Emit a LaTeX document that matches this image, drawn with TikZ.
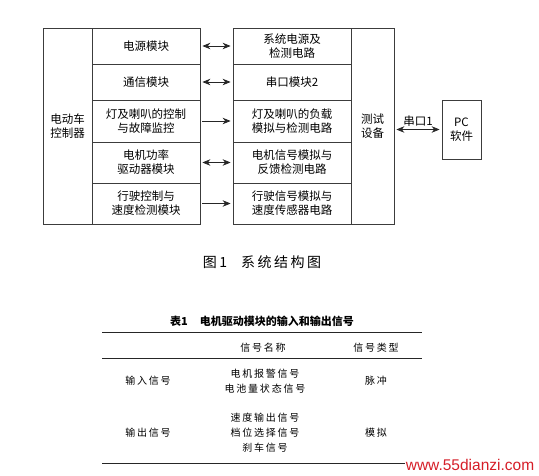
\documentclass[tikz,border=0pt]{standalone}
\usepackage{fontspec}
\newfontfamily\cjk{Noto Sans CJK SC}
\newfontfamily\cjkwide[LetterSpace=18]{Noto Sans CJK SC}
\setsansfont{Liberation Sans}
\definecolor{boxline}{RGB}{60,60,60}
\definecolor{markred}{RGB}{214,30,40}
\usetikzlibrary{arrows.meta,positioning}

\begin{document}
\begin{tikzpicture}[x=1pt,y=-1pt,
    blk/.style={draw=boxline, line width=0.8pt, align=center, inner sep=0pt,
      font=\cjk\fontsize{11.5}{14}\selectfont},
    link/.style={line width=0.8pt, draw=black!85, shorten >=2pt, shorten <=2pt},
    cell/.style={align=center, inner sep=0pt, font=\cjkwide\fontsize{10}{15}\selectfont},
    rule/.style={line width=0.8pt, draw=black!85}]
  \useasboundingbox (0,0) rectangle (539,476);
  % controller side
  \node[blk, minimum width=49pt, minimum height=196pt] (ctrl) at (67.5,126) {电动车\\控制器};
  \node[blk, minimum width=108pt, minimum height=36pt] (m1) at (146,46) {电源模块};
  \node[blk, minimum width=108pt, minimum height=36pt] (m2) at (146,82) {通信模块};
  \node[blk, minimum width=108pt, minimum height=42pt] (m3) at (146,121) {灯及喇叭的控制\\与故障监控};
  \node[blk, minimum width=108pt, minimum height=41pt] (m4) at (146,162.5) {电机功率\\驱动器模块};
  \node[blk, minimum width=108pt, minimum height=41pt] (m5) at (146,203.5) {行驶控制与\\速度检测模块};
  % test side
  \node[blk, minimum width=118pt, minimum height=36pt] (s1) at (292,46) {系统电源及\\检测电路};
  \node[blk, minimum width=118pt, minimum height=36pt] (s2) at (292,82) {串口模块2};
  \node[blk, minimum width=118pt, minimum height=42pt] (s3) at (292,121) {灯及喇叭的负载\\模拟与检测电路};
  \node[blk, minimum width=118pt, minimum height=41pt] (s4) at (292,162.5) {电机信号模拟与\\反馈检测电路};
  \node[blk, minimum width=118pt, minimum height=41pt] (s5) at (292,203.5) {行驶信号模拟与\\速度传感器电路};
  \node[blk, minimum width=43pt, minimum height=196pt] (tester) at (372.5,126) {测试\\设备};
  \node[blk, minimum width=39pt, minimum height=59pt] (pc) at (461.5,129.5) {PC\\软件};
  % links
  \foreach \i/\tip in {1/{Stealth[length=8pt,width=6.5pt]}-{Stealth[length=8pt,width=6.5pt]},
                       2/{Stealth[length=8pt,width=6.5pt]}-{Stealth[length=8pt,width=6.5pt]},
                       3/-{Stealth[length=8pt,width=6.5pt]},
                       4/{Stealth[length=8pt,width=6.5pt]}-{Stealth[length=8pt,width=6.5pt]},
                       5/-{Stealth[length=8pt,width=6.5pt]}}
    \draw[link, \tip] (m\i.east) -- (s\i.west);
  \draw[link, {Stealth[length=8pt,width=6.5pt]}-{Stealth[length=8pt,width=6.5pt]}]
    (pc.west -| tester.east) -- node[above=3pt, font=\cjk\fontsize{11.5}{14}\selectfont, inner sep=0pt] (com1) {串口1} (pc.west);
  % caption
  \node[font=\cjkwide\fontsize{14}{16}\selectfont, inner sep=0pt] (fig) at (262,262) {图1\hspace{14pt}系统结构图};
  % table
  \node[font=\cjk\bfseries\fontsize{11}{13}\selectfont, inner sep=0pt] (tabcap) at (262,321) {表1\hspace{12pt}电机驱动模块的输入和输出信号};
  \draw[rule] (102,332) -- (422,332);
  \draw[rule] (102,358) -- (422,358);
  \draw[rule] (102,463) -- (422,463);
  \node[cell] (hname) at (263,348) {信号名称};
  \node[cell] (htype) at (376,348) {信号类型};
  \node[cell] (in) at (148,381) {输入信号};
  \node[cell] (insig) at (265,381) {电机报警信号\\电池量状态信号};
  \node[cell] (intype) at (376,381) {脉冲};
  \node[cell] (out) at (148,433) {输出信号};
  \node[cell] (outsig) at (265,433) {速度输出信号\\档位选择信号\\刹车信号};
  \node[cell] (outtype) at (376,433) {模拟};
  % watermark
  \node[fill=white, text=markred, font=\sffamily\fontsize{15.5}{17}\selectfont, inner sep=1pt] (mark) at (470,465) {www.55dianzi.com};
\end{tikzpicture}
\end{document}
